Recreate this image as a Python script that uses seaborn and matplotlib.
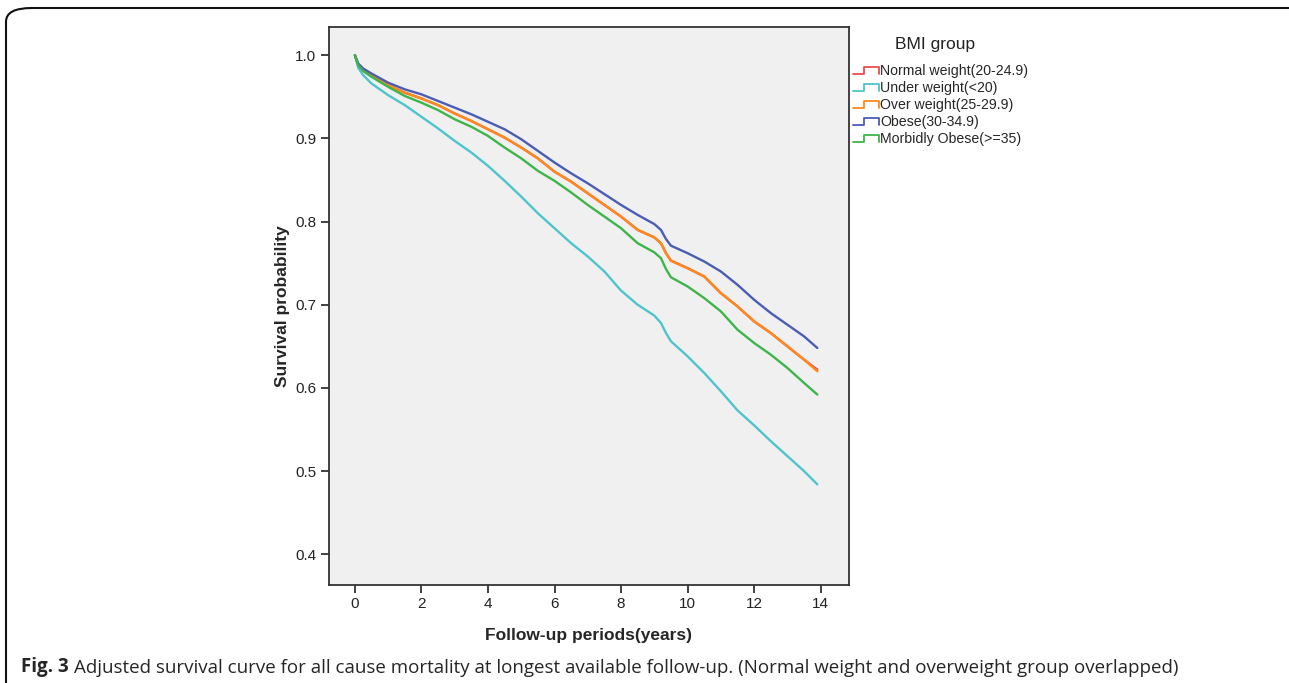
import matplotlib
matplotlib.use("Agg")
import matplotlib.pyplot as plt
import pandas as pd
import seaborn as sns
from matplotlib.legend_handler import HandlerLine2D
from matplotlib.lines import Line2D
from matplotlib.patches import FancyBboxPatch

# follow-up time (years) at which the curves were read
years = [0, 0.1, 0.25, 0.5, 1, 1.5, 2, 2.5, 3, 3.5, 4, 4.5, 5, 5.5, 6, 6.5, 7, 7.5,
         8, 8.5, 9, 9.2, 9.35, 9.5, 10, 10.5, 11, 11.5, 12, 12.5, 13, 13.5, 13.9]

normal = [1.0, 0.989, 0.982, 0.976, 0.964, 0.955, 0.948, 0.940, 0.930, 0.921, 0.911, 0.901,
          0.889, 0.876, 0.860, 0.848, 0.834, 0.820, 0.806, 0.790, 0.781, 0.774, 0.762, 0.753,
          0.744, 0.734, 0.714, 0.698, 0.680, 0.666, 0.650, 0.634, 0.622]
under = [1.0, 0.985, 0.976, 0.966, 0.952, 0.940, 0.926, 0.912, 0.897, 0.883, 0.867, 0.849,
         0.830, 0.810, 0.792, 0.774, 0.758, 0.740, 0.717, 0.700, 0.687, 0.678, 0.666, 0.656,
         0.638, 0.618, 0.596, 0.573, 0.555, 0.536, 0.518, 0.500, 0.484]
over = [1.0, 0.989, 0.982, 0.976, 0.964, 0.955, 0.948, 0.940, 0.930, 0.921, 0.911, 0.901,
        0.889, 0.876, 0.860, 0.848, 0.834, 0.820, 0.806, 0.790, 0.781, 0.774, 0.762, 0.753,
        0.744, 0.734, 0.714, 0.698, 0.680, 0.666, 0.650, 0.634, 0.620]
obese = [1.0, 0.990, 0.984, 0.978, 0.967, 0.959, 0.953, 0.945, 0.937, 0.929, 0.920, 0.911,
         0.899, 0.885, 0.871, 0.858, 0.846, 0.833, 0.820, 0.808, 0.797, 0.790, 0.779, 0.771,
         0.762, 0.752, 0.740, 0.724, 0.706, 0.690, 0.676, 0.662, 0.648]
morbid = [1.0, 0.988, 0.981, 0.974, 0.962, 0.951, 0.943, 0.934, 0.923, 0.914, 0.903, 0.889,
          0.876, 0.861, 0.849, 0.835, 0.820, 0.806, 0.792, 0.774, 0.763, 0.756, 0.743, 0.733,
          0.722, 0.708, 0.692, 0.670, 0.654, 0.640, 0.624, 0.606, 0.592]

groups = ["Normal weight(20-24.9)", "Under weight(<20)", "Over weight(25-29.9)",
          "Obese(30-34.9)", "Morbidly Obese(>=35)"]
colors = ["#ee4b4b", "#4ec4cc", "#ff8a1c", "#4b5cb4", "#3db54a"]

series = [normal, under, over, obese, morbid]
df = pd.concat([pd.DataFrame({"years": years, "survival": s, "group": g})
                for g, s in zip(groups, series)], ignore_index=True)


class StepHandler(HandlerLine2D):
    """Legend key drawn as a small step, like the SPSS output."""

    def create_artists(self, legend, orig_handle, xdescent, ydescent, width, height,
                       fontsize, trans):
        x0, x1 = -xdescent, -xdescent + width
        xm = x0 + 0.45 * width
        lo, hi = -ydescent + 0.15 * height, -ydescent + 0.85 * height
        line = Line2D([x0, xm, xm, x1, x1], [lo, lo, hi, hi, lo],
                      color=orig_handle.get_color(), lw=1.3)
        line.set_transform(trans)
        return [line]


sns.set_style("white")
plt.rcParams["font.family"] = ["Liberation Sans", "DejaVu Sans"]

fig = plt.figure(figsize=(12.89, 6.83), dpi=100)
ax = fig.add_axes([0.2552, 0.1435, 0.4034, 0.817])
ax.set_facecolor("#f0f0f0")

sns.lineplot(data=df, x="years", y="survival", hue="group", hue_order=groups,
             palette=colors, linewidth=1.7, legend=False, ax=ax, estimator=None,
             sort=False)

ax.set_xlim(-0.78, 14.85)
ax.set_ylim(0.363, 1.034)
ax.set_xticks(range(0, 15, 2))
ax.set_yticks([0.4, 0.5, 0.6, 0.7, 0.8, 0.9, 1.0])
ax.set_yticklabels(["0.4", "0.5", "0.6", "0.7", "0.8", "0.9", "1.0"])
ax.tick_params(axis="both", direction="out", length=6, width=1.3, color="#333333",
               labelsize=11, labelcolor="#222222", pad=3, left=True, bottom=True)
for s in ax.spines.values():
    s.set_color("#333333")
    s.set_linewidth(1.3)

ax.set_xlabel("Follow-up periods(years)", fontsize=12.5, fontweight="bold", labelpad=12)
ax.set_ylabel("Survival probability", fontsize=12.5, fontweight="bold", labelpad=4)

fig.text(935 / 1289, 1 - 45 / 683, "BMI group", fontsize=12.5, ha="center", va="center",
         color="#222222")
handles = [Line2D([], [], color=c) for c in colors]
fig.legend(handles, groups, loc="upper left", bbox_to_anchor=(853 / 1289, 1 - 64 / 683),
           frameon=False, fontsize=10.2, handlelength=1.8, handletextpad=0.1,
           labelspacing=0.22, borderaxespad=0, borderpad=0,
           handler_map={Line2D: StepHandler()})

# rounded frame of the figure panel
frame = FancyBboxPatch((6 / 1289, -0.1), 1.2, 1.0 - 8 / 683 + 0.1,
                       boxstyle="round,pad=0,rounding_size=0.02",
                       transform=fig.transFigure, fill=False, lw=1.5,
                       ec="#111111", clip_on=False)
fig.add_artist(frame)

cap_font = ["Open Sans", "DejaVu Sans"]
t1 = fig.text(21 / 1289, 1 - 672 / 683, "Fig. 3", fontsize=13.5, fontweight="bold",
              family=cap_font, va="baseline")
ax.annotate("Adjusted survival curve for all cause mortality at longest available follow-up. "
            "(Normal weight and overweight group overlapped)",
            xy=(1, 0), xycoords=t1, xytext=(4, 0), textcoords="offset points",
            fontsize=13.5, family=cap_font, va="bottom", annotation_clip=False)

fig.savefig("out.png", dpi=100)
